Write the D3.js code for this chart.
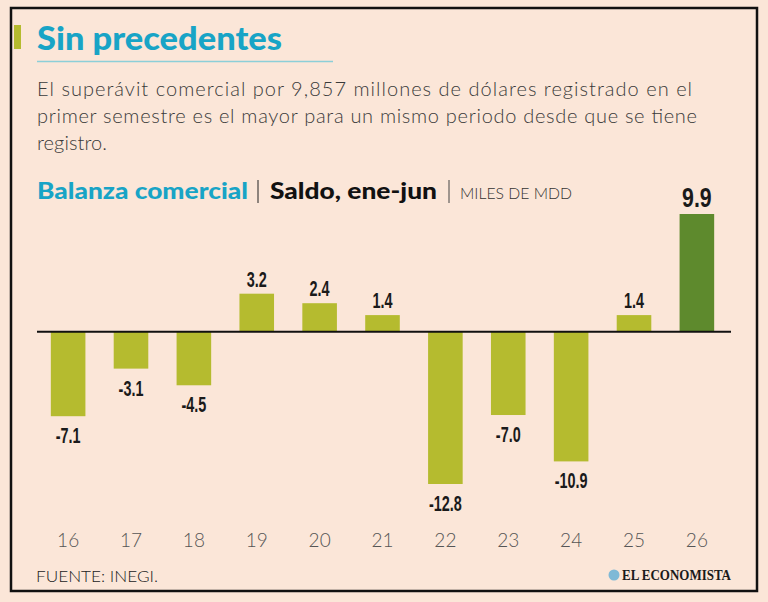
<!DOCTYPE html>
<html lang="es">
<head>
<meta charset="utf-8">
<title>Sin precedentes</title>
<script src="https://d3js.org/d3.v7.min.js"></script>
<style>
body { margin: 0; background: #fbe6d8; }
svg { display: block; }
.lede { font-family: "Lato", "Open Sans", sans-serif; font-size: 20px; fill: #3a3a3a; font-weight: 300; }
.num { font-family: "Liberation Sans", "Arial", sans-serif; font-weight: bold; fill: #1a1a1a; }
.yr { font-family: "Lato", sans-serif; font-weight: 300; font-size: 19px; fill: #555; }
.sb { font-family: "Lato", sans-serif; }
</style>
</head>
<body>
<div id="chart"></div>
<script>
// data
var years = ["16", "17", "18", "19", "20", "21", "22", "23", "24", "25", "26"];
var saldo = [-7.1, -3.1, -4.5, 3.2, 2.4, 1.4, -12.8, -7.0, -10.9, 1.4, 9.9];
var labels = ["-7.1", "-3.1", "-4.5", "3.2", "2.4", "1.4", "-12.8", "-7.0", "-10.9", "1.4", "9.9"];

var W = 768, H = 602;
var svg = d3.select("#chart").append("svg").attr("width", W).attr("height", H);

svg.append("rect").attr("width", W).attr("height", H).attr("fill", "#fbe6d8");
// frame
svg.append("rect").attr("x", 11).attr("y", 8).attr("width", 746).attr("height", 583)
  .attr("fill", "none").attr("stroke", "#111").attr("stroke-width", 2.5);

// title
svg.append("rect").attr("x", 14).attr("y", 25).attr("width", 7).attr("height", 24).attr("fill", "#b5bb2f");
svg.append("text").attr("x", 37).attr("y", 50)
  .style("font-family", "Lato, sans-serif").style("font-weight", "900").style("font-size", "33px")
  .attr("textLength", 245).attr("lengthAdjust", "spacingAndGlyphs")
  .attr("fill", "#18a4c6").text("Sin precedentes");
svg.append("line").attr("x1", 37).attr("x2", 333).attr("y1", 61.5).attr("y2", 61.5)
  .attr("stroke", "#8ccfd8").attr("stroke-width", 1.5);

var lede = ["El superávit comercial por 9,857 millones de dólares registrado en el",
  "primer semestre es el mayor para un mismo periodo desde que se tiene",
  "registro."];
svg.selectAll("text.lede").data(lede).enter().append("text").attr("class", "lede")
  .attr("x", 37).attr("y", function(d, i) { return 96 + i * 27; })
  .attr("textLength", function(d, i) { return i == 0 ? 655 : (i == 1 ? 660 : 70); })
  .text(function(d) { return d; });

// subtitle
function subText(x0, w, txt, size, weight, col) {
  svg.append("text").attr("class", "sb").attr("x", x0).attr("y", 199)
    .style("font-size", size).style("font-weight", weight).attr("fill", col)
    .attr("textLength", w).attr("lengthAdjust", "spacingAndGlyphs").text(txt);
}
subText(37, 211, "Balanza comercial", "22px", "900", "#18a4c6");
svg.append("line").attr("x1", 258).attr("x2", 258).attr("y1", 180).attr("y2", 203).attr("stroke", "#222").attr("stroke-width", 1);
subText(270, 167, "Saldo, ene-jun", "22px", "900", "#111");
svg.append("line").attr("x1", 449).attr("x2", 449).attr("y1", 180).attr("y2", 203).attr("stroke", "#444").attr("stroke-width", 1);
subText(460, 112, "MILES DE MDD", "15px", "300", "#333");

// scales
var x = d3.scaleBand().domain(years).range([37, 728]).paddingInner(0.45).paddingOuter(0.22);
var y = d3.scaleLinear().domain([-12.8, 9.9]).range([484, 214]);

svg.selectAll("rect.bar").data(saldo).enter().append("rect").attr("class", "bar")
  .attr("x", function(d, i) { return x(years[i]); })
  .attr("width", x.bandwidth())
  .attr("y", function(d) { return y(Math.max(0, d)); })
  .attr("height", function(d) { return Math.abs(y(d) - y(0)); })
  .attr("fill", function(d, i) { return i == years.length - 1 ? "#5e8a2d" : "#b5bb2f"; });

svg.append("line").attr("x1", 37).attr("x2", 731).attr("y1", y(0)).attr("y2", y(0))
  .attr("stroke", "#111").attr("stroke-width", 2);

// value labels, condensed (the last one is bigger)
svg.selectAll("text.num").data(saldo).enter().append("text").attr("class", "num")
  .attr("text-anchor", "middle")
  .attr("transform", function(d, i) {
    var cx = x(years[i]) + x.bandwidth() / 2;
    var cy = d >= 0 ? y(d) - 7 : y(d) + 27;
    var sx = i == years.length - 1 ? 0.76 : 0.64;
    return "translate(" + cx + "," + cy + ") scale(" + sx + ",1)";
  })
  .style("font-size", function(d, i) { return i == years.length - 1 ? "28px" : "22.5px"; })
  .text(function(d, i) { return labels[i]; });

// x axis
var xAxis = svg.append("g").attr("transform", "translate(0,533)")
  .call(d3.axisBottom(x).tickSize(0).tickPadding(0));
xAxis.select(".domain").remove();
xAxis.selectAll("text").attr("class", "yr").attr("dy", "0.71em").style("font-size", null).style("font-family", null);

// footer
svg.append("text").attr("x", 36).attr("y", 582)
  .style("font-family", "Lato, sans-serif").style("font-weight", "300").style("font-size", "15px")
  .attr("textLength", 122).attr("lengthAdjust", "spacingAndGlyphs")
  .attr("fill", "#222").text("FUENTE:  INEGI.");
svg.append("circle").attr("cx", 614).attr("cy", 575).attr("r", 5.5).attr("fill", "#7fb9d6");
svg.append("text").attr("x", 622).attr("y", 580)
  .style("font-family", "Liberation Serif, serif").style("font-weight", "bold").style("font-size", "14px")
  .attr("textLength", 109).attr("lengthAdjust", "spacingAndGlyphs").attr("fill", "#1a1a1a").text("EL ECONOMISTA");
</script>
</body>
</html>
